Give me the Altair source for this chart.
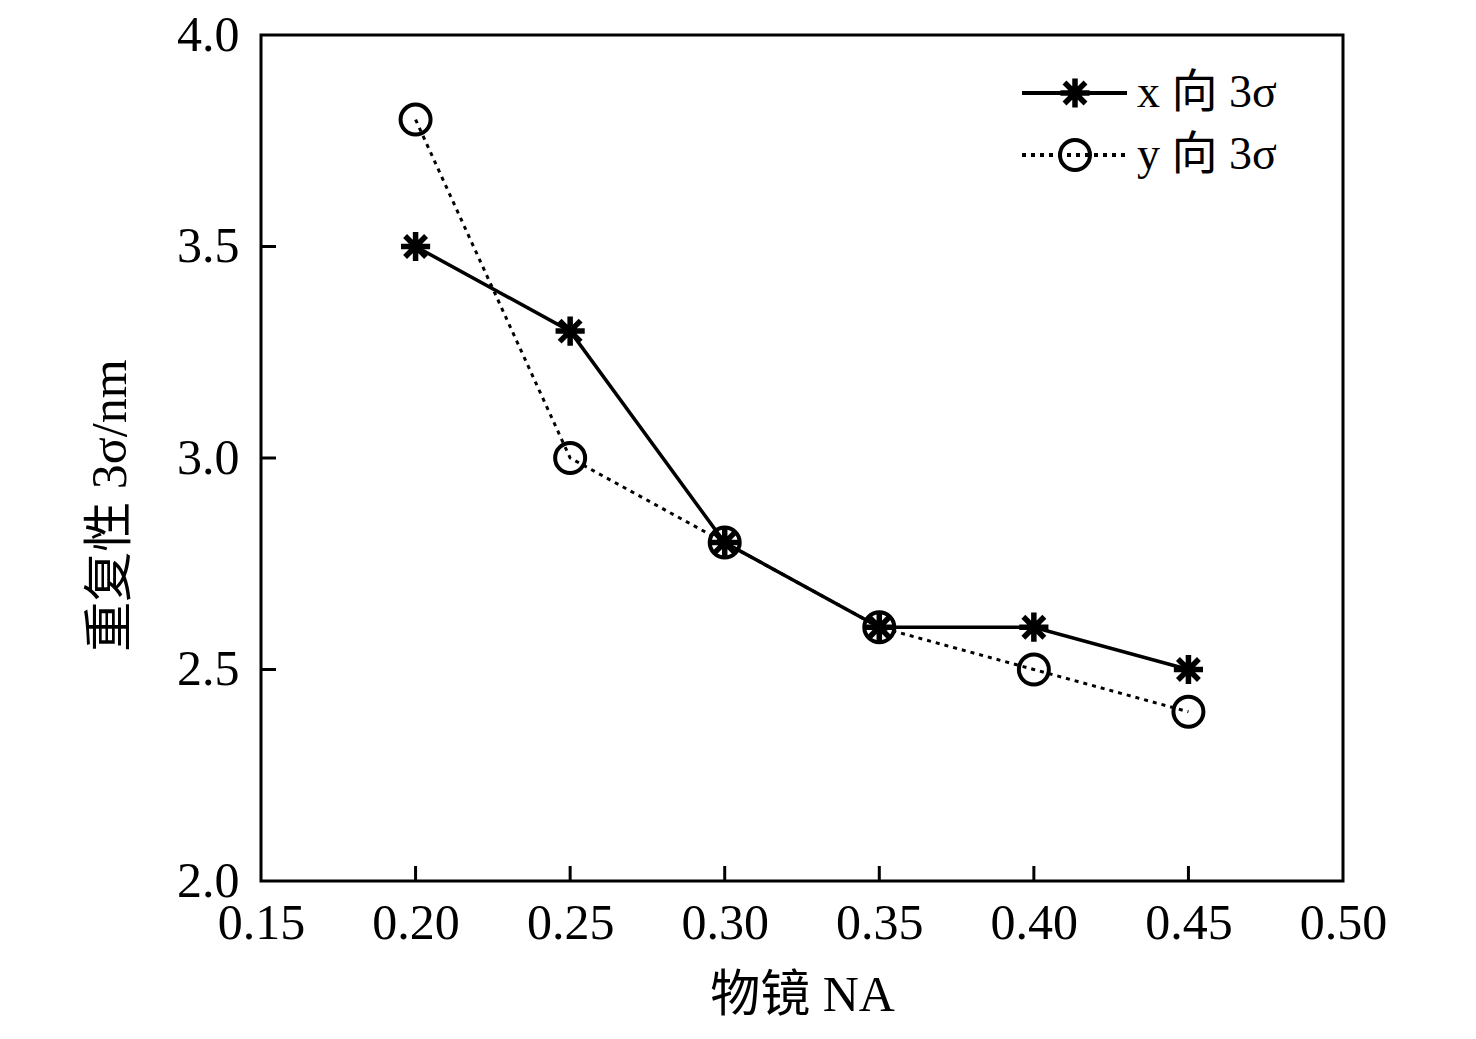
import altair as alt
import pandas as pd

na = [0.20, 0.25, 0.30, 0.35, 0.40, 0.45]
x_sigma = [3.5, 3.3, 2.8, 2.6, 2.6, 2.5]
y_sigma = [3.8, 3.0, 2.8, 2.6, 2.5, 2.4]
series_names = ["x 向 3σ", "y 向 3σ"]
x_ticks = [0.15, 0.20, 0.25, 0.30, 0.35, 0.40, 0.45, 0.50]
y_ticks = [2.0, 2.5, 3.0, 3.5, 4.0]
x_inner_ticks = [0.20, 0.25, 0.30, 0.35, 0.40, 0.45]
y_inner_ticks = [2.5, 3.0, 3.5]

W, H = 1082, 846
FONT = "Liberation Serif, Times New Roman, Noto Sans CJK SC"
STAR = "M-1,0L1,0M0,-1L0,1M-0.72,-0.72L0.72,0.72M-0.72,0.72L0.72,-0.72"

dfx = pd.DataFrame({"na": na, "v": x_sigma})
dfy = pd.DataFrame({"na": na, "v": y_sigma})

xscale = alt.Scale(domain=[0.15, 0.50], nice=False)
yscale = alt.Scale(domain=[2.0, 4.0], nice=False)

X = alt.X("na:Q", scale=xscale,
          axis=alt.Axis(values=x_ticks, format=".2f", title="物镜 NA",
                        titleY=114, titleBaseline="middle", labelFlush=False,
                        labelOverlap=False, labelPadding=17))
Y = alt.Y("v:Q", scale=yscale,
          axis=alt.Axis(values=y_ticks, format=".1f", title="重复性 3σ/nm",
                        titleX=-151, titleY=470, titleAngle=270,
                        titleBaseline="middle", titleAlign="center",
                        labelOverlap=False, labelPadding=22))

line_x = alt.Chart(dfx).mark_line(color="black", strokeWidth=3.5).encode(x=X, y=Y)
line_y = alt.Chart(dfy).mark_line(color="black", strokeWidth=3, strokeDash=[4, 5]).encode(x=X, y=Y)
pts_x = alt.Chart(dfx).mark_point(shape=STAR, size=850, filled=False, color="black",
                                  strokeWidth=5.5, opacity=1).encode(x=X, y=Y)
pts_y = alt.Chart(dfy).mark_point(shape="circle", size=900, filled=False, color="black",
                                  strokeWidth=4, opacity=1).encode(x=X, y=Y)

# inward ticks
tx = alt.Chart(pd.DataFrame({"na": x_inner_ticks})).mark_rule(color="black", strokeWidth=3).encode(
    x=alt.X("na:Q", scale=xscale), y=alt.value(H), y2=alt.value(H - 15))
ty = alt.Chart(pd.DataFrame({"v": y_inner_ticks})).mark_rule(color="black", strokeWidth=3).encode(
    y=alt.Y("v:Q", scale=yscale), x=alt.value(0), x2=alt.value(15))

# legend
leg = pd.DataFrame({"name": series_names})
l1 = alt.Chart(leg.iloc[[0]]).mark_rule(color="black", strokeWidth=4).encode(
    x=alt.value(761), x2=alt.value(866), y=alt.value(58))
l2 = alt.Chart(leg.iloc[[1]]).mark_rule(color="black", strokeWidth=4, strokeDash=[4, 5]).encode(
    x=alt.value(761), x2=alt.value(866), y=alt.value(120))
m1 = alt.Chart(leg.iloc[[0]]).mark_point(shape=STAR, size=850, filled=False, color="black",
                                         strokeWidth=5.5, opacity=1).encode(x=alt.value(814), y=alt.value(58))
m2 = alt.Chart(leg.iloc[[1]]).mark_point(shape="circle", size=900, filled=False, color="black",
                                         strokeWidth=4, opacity=1).encode(x=alt.value(814), y=alt.value(120))
t1 = alt.Chart(leg.iloc[[0]]).mark_text(align="left", baseline="middle", font=FONT, fontSize=46,
                                        color="black").encode(text="name:N", x=alt.value(876), y=alt.value(58))
t2 = alt.Chart(leg.iloc[[1]]).mark_text(align="left", baseline="middle", font=FONT, fontSize=46,
                                        color="black").encode(text="name:N", x=alt.value(876), y=alt.value(120))

chart = alt.layer(line_x, line_y, pts_x, pts_y, tx, ty, l1, l2, m1, m2, t1, t2).properties(
    width=W, height=H,
    padding={"left": 253, "top": 27, "right": 100, "bottom": 150},
    autosize="none",
    background="white",
).configure_view(stroke="black", strokeWidth=3).configure_axis(
    labelFont=FONT, labelFontSize=50, labelColor="black",
    titleFont=FONT, titleFontSize=50, titleColor="black", titleFontWeight="normal",
    domain=False, ticks=False, tickSize=0, grid=False,
)

chart.save("out.html", embed_options={"renderer": "svg", "actions": False})
